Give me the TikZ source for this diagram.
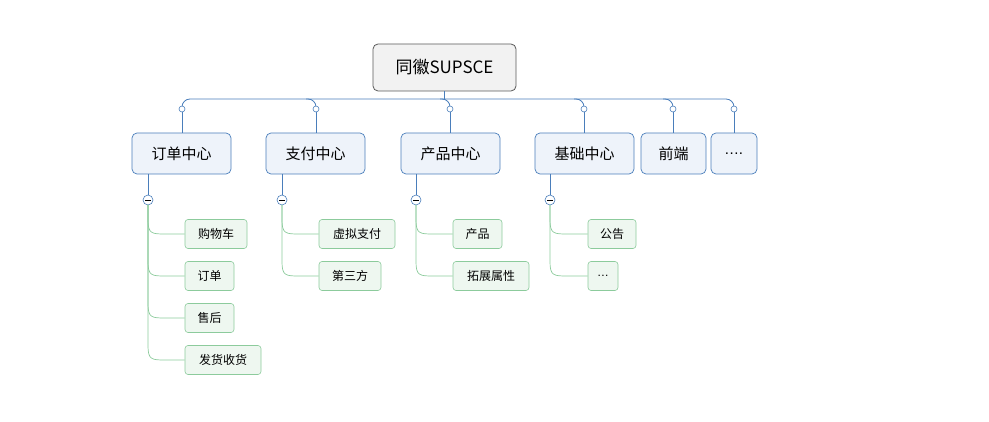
\documentclass[tikz,border=0pt]{standalone}
\usepackage{fontspec}
\setmainfont{Noto Sans CJK SC}
\newfontfamily\latn{Liberation Sans}
\newcommand{\tdots}{{\latn.\kern0.5pt.\kern0.5pt.}}
\definecolor{bline}{HTML}{4A7EBB}
\definecolor{bfill}{HTML}{EEF3FA}
\definecolor{gline}{HTML}{8CCB9C}
\definecolor{gfill}{HTML}{EEF7F0}
\begin{document}
\begin{tikzpicture}[x=1pt,y=-1pt,
 root/.style={draw=black!65,fill=black!5,rounded corners=5pt,line width=0.8pt,minimum width=143pt,minimum height=47pt,font=\fontsize{17}{20}\selectfont,inner sep=0pt},
 l1/.style={draw=bline,fill=bfill,rounded corners=5pt,line width=0.7pt,minimum height=41pt,font=\fontsize{15}{18}\selectfont,inner sep=0pt},
 l2/.style={draw=gline,fill=gfill,rounded corners=3pt,line width=0.6pt,minimum height=29pt,font=\fontsize{12}{14}\selectfont,inner sep=0pt},
 bl/.style={draw=bline,line width=0.8pt},
 gl/.style={draw=gline,line width=0.7pt},
 dot/.style={circle,draw=bline,fill=white,inner sep=0pt,minimum size=6pt,line width=0.6pt},
 mn/.style={circle,draw=bline,fill=white,inner sep=0pt,minimum size=10pt,line width=0.6pt}]
\useasboundingbox (0,0) rectangle (989,422);
\node[root] (r) at (444.5,67.5) {同徽SUPSCE};
\node[l1,minimum width=99pt] (a) at (181.5,153.5) {订单中心};
\node[l1,minimum width=99pt] (b) at (315.5,153.5) {支付中心};
\node[l1,minimum width=99pt] (c) at (450.5,153.5) {产品中心};
\node[l1,minimum width=99pt] (d) at (584.5,153.5) {基础中心};
\node[l1,minimum width=65pt] (e) at (673.5,153.5) {前端};
\node[l1,minimum width=46pt] (f) at (734,153.5) {{\latn.\kern0.5pt.\kern0.5pt.\kern0.5pt.}};
\coordinate (bus) at (444.5,99);
\draw[bl] (r.south) -- (bus);
\draw[bl,rounded corners=8pt] (182,109) -- (182,99) -- (734,99) -- (734,109);
\foreach \x in {316,450,584,673}{
 \draw[bl,rounded corners=8pt] (\x-10,99) -| (\x,109);
}
\foreach \x in {182,316,450,584,673,734}{
 \draw[bl] (\x,109) -- (\x,133);
 \node[dot] at (\x,109) {};
}
\foreach \n/\x in {a/148,b/282,c/416,d/550}{
 \draw[bl] (\x,174) -- (\x,200);
 \node[mn] (m\n) at (\x,200) {};
 \draw[line width=0.8pt] (\x-3,200) -- (\x+3,200);
}
\foreach \x/\cx/\y/\w/\t/\nm in {
 148/216/234/62/购物车/a1, 148/209.5/276/49/订单/a2, 148/209.5/318/49/售后/a3, 148/223/360/76/发货收货/a4,
 282/357/234/76/虚拟支付/b1, 282/350/276/62/第三方/b2,
 416/477.5/234/49/产品/c1, 416/491/276/76/拓展属性/c2,
 550/612/234/48/公告/d1, 550/603/276/30/\tdots/d2}{
 \node[l2,minimum width=\w pt] (\nm) at (\cx,\y) {\t};
 \draw[gl] (\x,205) -- (\x,\y-14) .. controls (\x,\y) and (\x+4,\y) .. (\x+18,\y) -- (\nm.west);
}
\end{tikzpicture}
\end{document}
